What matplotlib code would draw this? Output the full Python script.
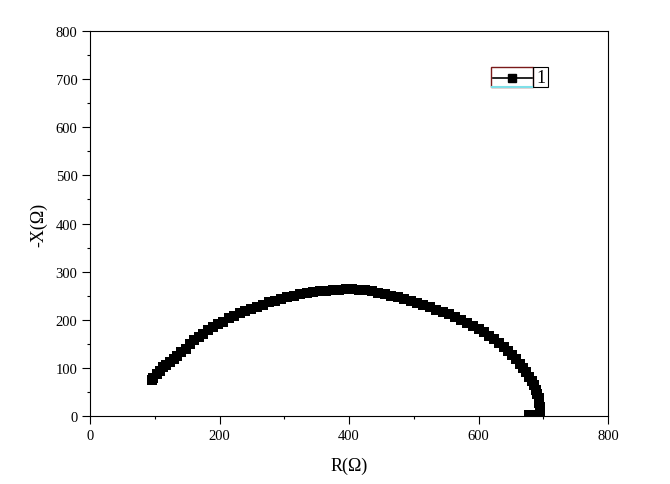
import matplotlib
matplotlib.use("Agg")
import matplotlib.pyplot as plt
from matplotlib.ticker import MultipleLocator
from matplotlib.patches import Rectangle
from matplotlib.lines import Line2D

plt.rcParams['font.family'] = ['Liberation Serif', 'DejaVu Serif']

# impedance data: R (ohm) and -X (ohm)
r_vals = [96, 98, 103, 108, 113, 118, 123, 129, 135, 141, 148, 154, 161, 168, 175,
          182, 190, 198, 206, 214, 222, 231, 240, 249, 258, 267, 276, 285, 295, 305,
          315, 325, 335, 345, 355, 365, 375, 385, 395, 405, 415, 425, 435, 445, 455,
          465, 475, 485, 495, 505, 515, 525, 535, 545, 555, 564, 573, 582, 591, 600,
          608, 616, 624, 632, 639, 646, 652, 658, 664, 669, 674, 678, 682, 686, 689,
          691, 693, 694, 695, 695, 695, 686, 678]
x_vals = [75, 80, 87, 94, 101, 107, 113, 118, 125, 133, 140, 150, 157, 164, 171,
          178, 185, 191, 196, 203, 208, 213, 218, 222, 227, 231, 236, 239, 243, 247,
          250, 253, 255, 257, 259, 260, 261, 262, 263, 263, 262, 261, 259, 256, 253,
          250, 247, 244, 240, 235, 231, 226, 221, 216, 211, 205, 199, 193, 188, 181,
          174, 167, 159, 151, 143, 135, 127, 118, 109, 100, 91, 82, 73, 64, 55,
          46, 37, 28, 19, 10, 3, 2, 2]

series_label = "1"

W, H = 670, 485
fig = plt.figure(figsize=(W / 100, H / 100), dpi=100)
ax = fig.add_axes([90 / W, 1 - 417 / H, 518 / W, 385 / H])

ax.plot(r_vals, x_vals, color='black', linestyle='none', marker='s',
        markersize=7.5, markeredgewidth=0)

ax.set_xlim(0, 800)
ax.set_ylim(0, 800)
ax.xaxis.set_major_locator(MultipleLocator(200))
ax.xaxis.set_minor_locator(MultipleLocator(100))
ax.yaxis.set_major_locator(MultipleLocator(100))
ax.yaxis.set_minor_locator(MultipleLocator(50))
ax.tick_params(which='major', direction='out', length=5.5, width=0.8, labelsize=10.5)
ax.tick_params(which='minor', direction='out', length=2.5, width=0.8)
ax.tick_params(top=False, right=False)
for s in ax.spines.values():
    s.set_linewidth(0.8)

ax.set_xlabel('R(Ω)', fontsize=13, labelpad=11)
ax.set_ylabel('-X(Ω)', fontsize=13, labelpad=6)

# legend drawn by hand, Origin style (pixel positions -> figure fraction)
def fx(px):
    return px / W

def fy(py):
    return 1 - py / H

fig.patches.append(Rectangle((fx(491), fy(88)), fx(533) - fx(491), fy(68) - fy(88),
                             transform=fig.transFigure, fill=False,
                             edgecolor='#7a1a1a', linewidth=1.0))
fig.patches.append(Rectangle((fx(533), fy(88)), fx(548) - fx(533), fy(68) - fy(88),
                             transform=fig.transFigure, fill=False,
                             edgecolor='black', linewidth=0.8))
fig.lines.append(Line2D([fx(492), fx(532)], [fy(88), fy(88)],
                        transform=fig.transFigure, color='#7fe0e8', linewidth=1.5))
fig.lines.append(Line2D([fx(493), fx(532)], [fy(78.5), fy(78.5)],
                        transform=fig.transFigure, color='black', linewidth=1.2))
fig.lines.append(Line2D([fx(512)], [fy(78.5)], transform=fig.transFigure,
                        color='black', marker='s', markersize=5.5, linestyle='none'))
fig.text(fx(540.5), fy(78.5), series_label, fontsize=13, ha='center', va='center')

fig.savefig('out.png', dpi=100)
